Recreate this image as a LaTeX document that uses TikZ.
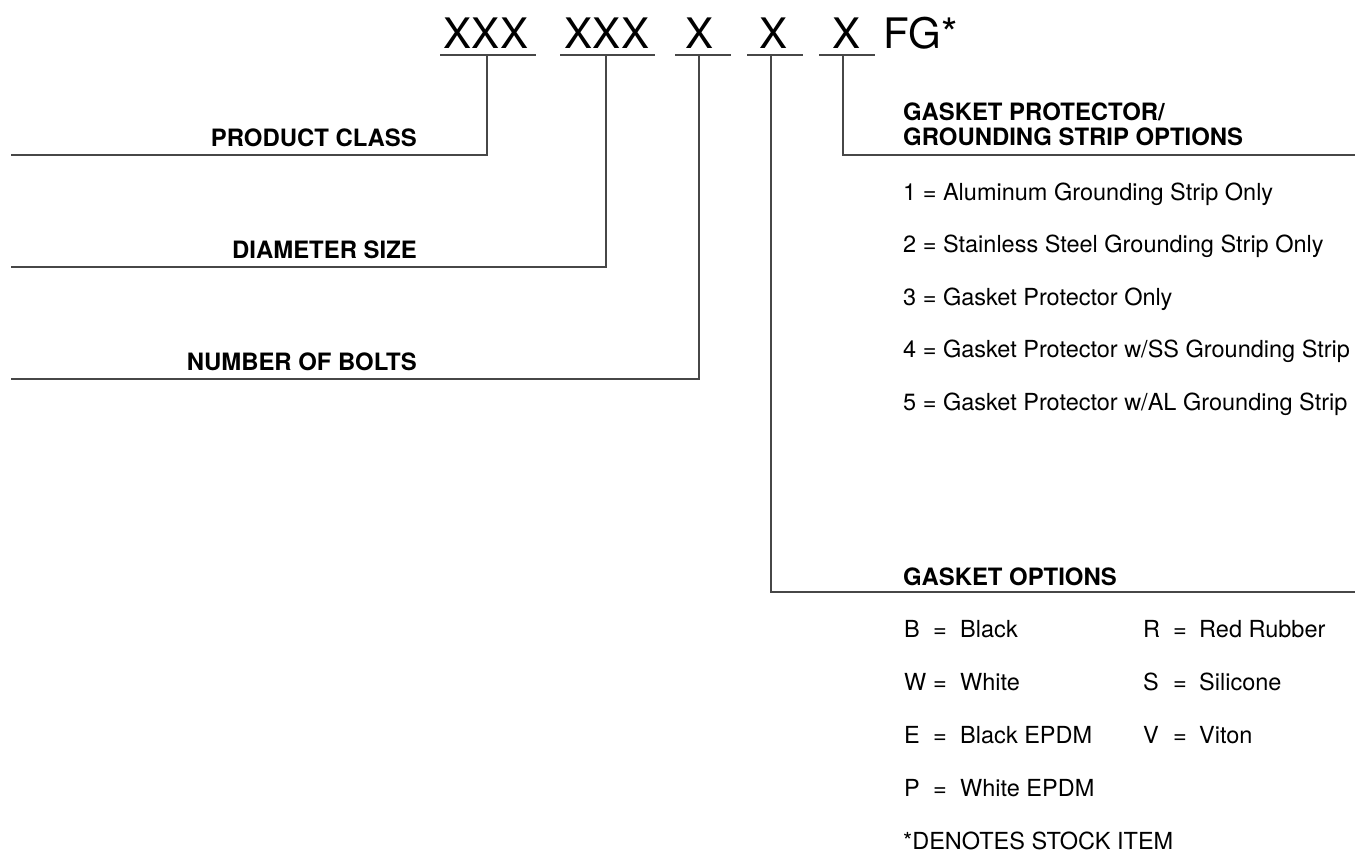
\documentclass[tikz,border=0pt]{standalone}
\usepackage{fontspec}
\setmainfont{TeX Gyre Heros}
\begin{document}
\begin{tikzpicture}[x=1pt,y=-1pt,
  lead/.style={draw=black!72,line width=1.8pt},
  uline/.style={draw=black!72,line width=1.6pt},
  code/.style={inner sep=0pt,anchor=base,font=\fontsize{42}{42}\selectfont},
  head/.style={inner sep=0pt,anchor=base west,font=\fontsize{23.9}{25}\selectfont\bfseries,align=left},
  lhead/.style={inner sep=0pt,anchor=base east,font=\fontsize{23.9}{25}\selectfont\bfseries},
  opt/.style={inner sep=0pt,anchor=base west,font=\fontsize{23.5}{25}\selectfont}]
\useasboundingbox (0,0) rectangle (1369,855);
% code letters
\node[code] (c1) at (486,48) {XXX};
\node[code] (c2) at (607,48) {XXX};
\node[code] (c3) at (700,48) {X};
\node[code] (c4) at (773,48) {X};
\node[code] (c5) at (846,48) {X};
\node[code,anchor=base west] (fg) at (883,48) {FG*};
% underlines
\coordinate (u1a) at (440,55); \coordinate (u1b) at (536,55);
\coordinate (u2a) at (560,55); \coordinate (u2b) at (655,55);
\coordinate (u3a) at (675,55); \coordinate (u3b) at (731,55);
\coordinate (u4a) at (747,55); \coordinate (u4b) at (803,55);
\coordinate (u5a) at (819,55); \coordinate (u5b) at (875,55);
\draw[uline] (u1a) -- (u1b);
\draw[uline] (u2a) -- (u2b);
\draw[uline] (u3a) -- (u3b);
\draw[uline] (u4a) -- (u4b);
\draw[uline] (u5a) -- (u5b);
% drop points
\coordinate (d1) at (487,55);
\coordinate (d2) at (606,55);
\coordinate (d3) at (699,55);
\coordinate (d4) at (771,55);
\coordinate (d5) at (843,55);
% line ends
\coordinate (e1) at (11,155);
\coordinate (e2) at (11,267);
\coordinate (e3) at (11,379);
\coordinate (e4) at (1355,592);
\coordinate (e5) at (1355,155);
\draw[lead] (d1) |- (e1);
\draw[lead] (d2) |- (e2);
\draw[lead] (d3) |- (e3);
\draw[lead] (d4) |- (e4);
\draw[lead] (d5) |- (e5);
% left labels
\node[lhead] (pc) at (417,146) {PRODUCT CLASS};
\node[lhead] (ds) at (417,258) {DIAMETER SIZE};
\node[lhead] (nb) at (417,370) {NUMBER OF BOLTS};
% gasket protector options
\node[head] (gp1) at (903,120) {GASKET PROTECTOR/};
\node[head] (gp2) at (903,145) {GROUNDING STRIP OPTIONS};
\node[opt] (o1) at (903,200) {1 = Aluminum Grounding Strip Only};
\node[opt] (o2) at (903,252.5) {2 = Stainless Steel Grounding Strip Only};
\node[opt] (o3) at (903,305) {3 = Gasket Protector Only};
\node[opt] (o4) at (903,357.5) {4 = Gasket Protector w/SS Grounding Strip};
\node[opt] (o5) at (903,410) {5 = Gasket Protector w/AL Grounding Strip};
% gasket options
\node[head] (go) at (903,585) {GASKET OPTIONS};
\node[opt] (gbL) at (904,637) {B};
\node[opt] (gbE) at (933,637) {=};
\node[opt] (gbD) at (960,637) {Black};
\node[opt] (gwL) at (904,690) {W};
\node[opt] (gwE) at (933,690) {=};
\node[opt] (gwD) at (960,690) {White};
\node[opt] (geL) at (904,743) {E};
\node[opt] (geE) at (933,743) {=};
\node[opt] (geD) at (960,743) {Black EPDM};
\node[opt] (gpL) at (904,796) {P};
\node[opt] (gpE) at (933,796) {=};
\node[opt] (gpD) at (960,796) {White EPDM};
\node[opt] (grL) at (1143,637) {R};
\node[opt] (grE) at (1173,637) {=};
\node[opt] (grD) at (1199,637) {Red Rubber};
\node[opt] (gsL) at (1143,690) {S};
\node[opt] (gsE) at (1173,690) {=};
\node[opt] (gsD) at (1199,690) {Silicone};
\node[opt] (gvL) at (1143,743) {V};
\node[opt] (gvE) at (1173,743) {=};
\node[opt] (gvD) at (1199,743) {Viton};
\node[opt] (stock) at (903,849) {*DENOTES STOCK ITEM};
\end{tikzpicture}
\end{document}
